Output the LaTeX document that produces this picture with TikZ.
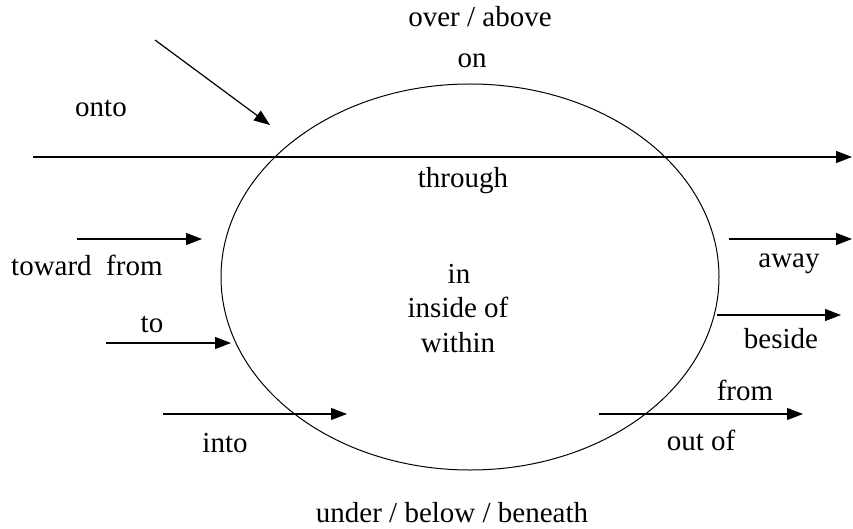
\documentclass[tikz,border=0pt]{standalone}
\usepackage{fontspec}
\setmainfont{Liberation Serif}
\usetikzlibrary{shapes.geometric, arrows.meta}

\begin{document}
\begin{tikzpicture}[x=1pt, y=-1pt,
    word/.style={font=\fontsize{29}{35}\selectfont, inner sep=0pt, anchor=base},
    arrow/.style={-{Triangle[length=16pt, width=12pt]}, line width=1.2pt},
    area/.style={ellipse, draw, line width=1pt, minimum width=498pt, minimum height=386pt, inner sep=0pt}
]
\useasboundingbox (0,0) rectangle (853,529);

% Region
\node[area] (region) at (470,277) {};

% Labels above
\node[word] (over) at (480,27) {over / above};
\node[word] (on) at (472,68) {on};
\node[word] (onto) at (101,117) {onto};
\node[word] (through) at (463,188) {through};

% Labels inside
\node[word] (in) at (459,283) {in};
\node[word] (inside) at (458,317) {inside of};
\node[word] (within) at (458,352) {within};

% Labels left
\node[word, anchor=base west] (toward) at (11,275) {toward\ \ from};
\node[word] (to) at (152,332) {to};
\node[word] (into) at (225,452) {into};

% Labels right
\node[word] (away) at (789,267) {away};
\node[word] (beside) at (781,348) {beside};
\node[word] (from) at (745,400) {from};
\node[word] (outof) at (701,450) {out of};

% Label below
\node[word] (under) at (452,522) {under / below / beneath};

% Arrow ends
\coordinate (onto start) at (155,40);
\coordinate (onto end) at (270,125);
\coordinate (through start) at (33,157);
\coordinate (through end) at (852,157);
\coordinate (toward start) at (77,239);
\coordinate (toward end) at (202,239);
\coordinate (to start) at (106,343);
\coordinate (to end) at (231,343);
\coordinate (into start) at (163,414);
\coordinate (into end) at (347,414);
\coordinate (away start) at (729,239);
\coordinate (away end) at (852,239);
\coordinate (beside start) at (717,315);
\coordinate (beside end) at (841,315);
\coordinate (from start) at (599,414);
\coordinate (from end) at (803,414);

% Arrows
\draw[arrow] (onto start) -- (onto end);
\draw[arrow] (through start) -- (through end);
\draw[arrow] (toward start) -- (toward end);
\draw[arrow] (to start) -- (to end);
\draw[arrow] (into start) -- (into end);
\draw[arrow] (away start) -- (away end);
\draw[arrow] (beside start) -- (beside end);
\draw[arrow] (from start) -- (from end);

\end{tikzpicture}
\end{document}
